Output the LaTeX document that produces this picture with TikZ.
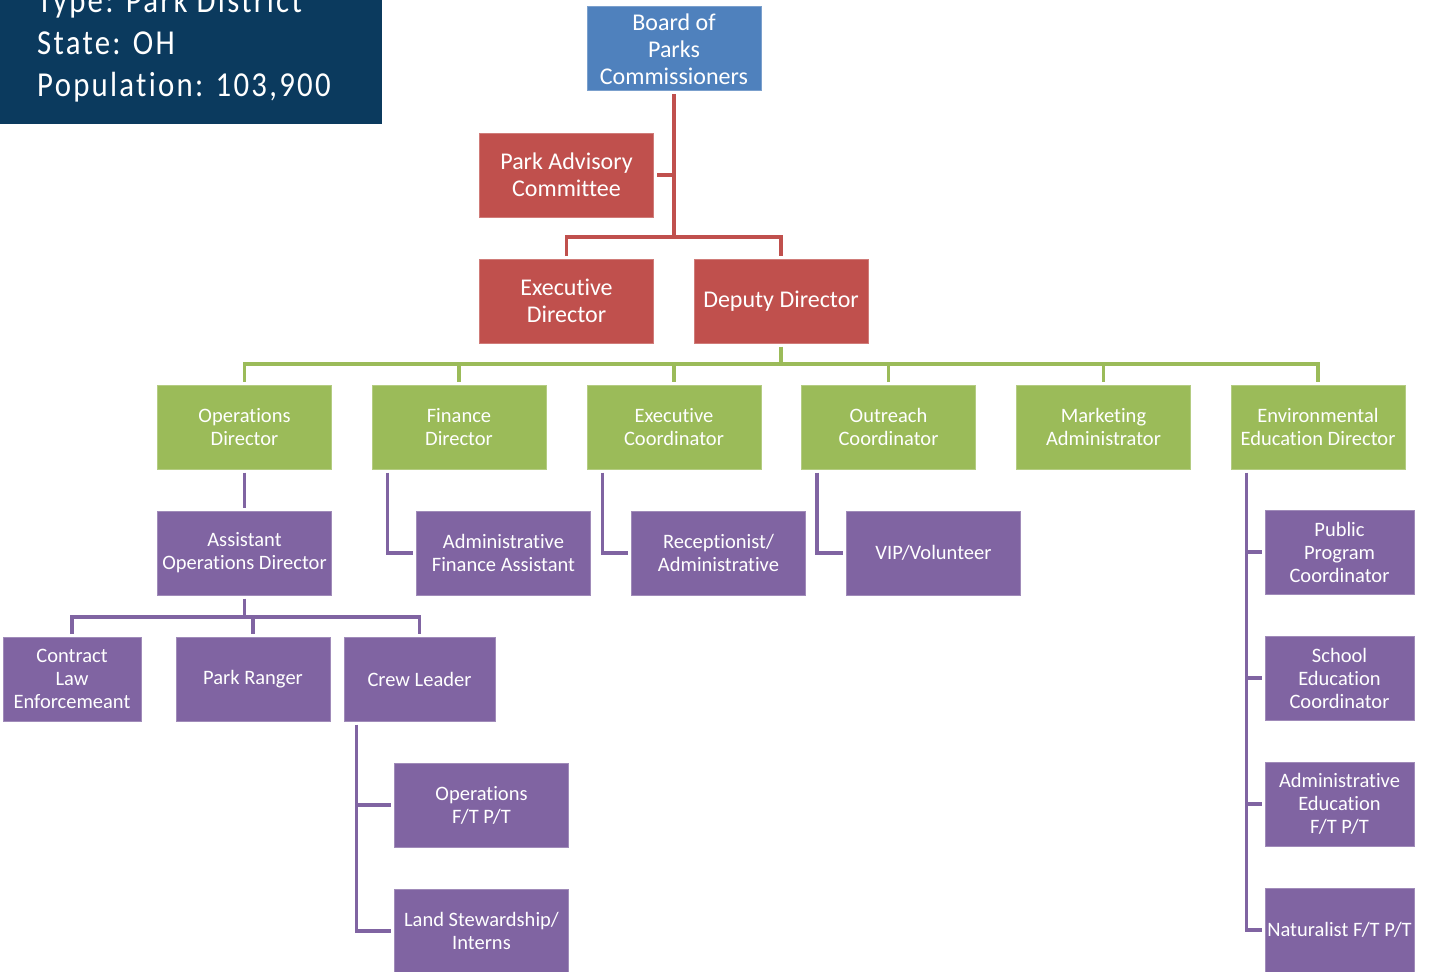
\documentclass[tikz,border=0pt]{standalone}
\usepackage{fontspec}
\setmainfont[Ligatures=NoCommon]{Carlito}
\newfontfamily\panelfont[FakeStretch=0.88, LetterSpace=6.5, Ligatures=NoCommon]{Carlito}
\definecolor{navy}{HTML}{0B3A5E}
\definecolor{boardblue}{HTML}{4F81BD}
\definecolor{leadred}{HTML}{C0504D}
\definecolor{deptgreen}{HTML}{9BBB59}
\definecolor{staffpurple}{HTML}{8064A2}

\tikzset{
  unit/.style={rectangle, inner sep=0pt, minimum width=174pt, minimum height=84pt,
    align=center, text=white, line width=1pt},
  bigtxt/.style={font=\fontsize{24}{27}\selectfont},
  smalltxt/.style={font=\fontsize{20.5}{23}\selectfont},
  boardbox/.style={unit, bigtxt, fill=boardblue, draw=boardblue!75!white},
  leadbox/.style={unit, bigtxt, fill=leadred, draw=leadred!75!white},
  deptbox/.style={unit, smalltxt, fill=deptgreen, draw=deptgreen!75!white},
  staffbox/.style={unit, smalltxt, fill=staffpurple, draw=staffpurple!75!white},
  link/.style={line width=3.5pt, shorten <=3pt, shorten >=3pt},
  infotxt/.style={anchor=base west, inner sep=0pt, text=white,
    font=\panelfont\fontsize{35}{42}\selectfont},
}

\begin{document}
\begin{tikzpicture}[x=1pt, y=-1pt]
\useasboundingbox (0,0) rectangle (1431,971);
\clip (0,0) rectangle (1431,971);

% district summary panel
\fill[navy] (0,-30) rectangle (382,124);
\node[infotxt] (itype) at (37,13) {Type: Park District};
\node[infotxt] (istate) at (37,55) {State: OH};
\node[infotxt] (ipop) at (37,97) {Population: 103,900};

% board and leadership
\node[boardbox] (board) at (674,49) {Board of\\Parks\\Commissioners};
\node[leadbox] (advisory) at (566.5,175) {Park Advisory\\Committee};
\node[leadbox] (execdir) at (566.5,301) {Executive\\Director};
\node[leadbox] (deputy) at (781,301) {Deputy Director};

% departments
\node[deptbox] (ops) at (244.5,427) {Operations\\Director};
\node[deptbox] (fin) at (459,427) {Finance\\ Director};
\node[deptbox] (excoord) at (674,427) {Executive\\Coordinator};
\node[deptbox] (outreach) at (888.5,427) {Outreach\\Coordinator};
\node[deptbox] (marketing) at (1103.5,427) {Marketing\\Administrator};
\node[deptbox] (envdir) at (1318,427) {Environmental\\Education Director};

% second level staff
\node[staffbox] (asstops) at (244.5,553) {Assistant\\Operations Director};
\node[staffbox] (adminfin) at (503.5,553) {Administrative\\Finance Assistant};
\node[staffbox] (recep) at (718.5,553) {Receptionist/\\Administrative};
\node[staffbox] (vip) at (933.5,553) {VIP/Volunteer};

% environmental education staff
\node[staffbox, minimum width=149pt] (pub) at (1339.5,552) {Public\\ Program\\Coordinator};
\node[staffbox, minimum width=149pt] (school) at (1339.5,678) {School\\ Education\\Coordinator};
\node[staffbox, minimum width=149pt] (adminedu) at (1339.5,804) {Administrative\\Education\\F/T P/T};
\node[staffbox, minimum width=149pt] (nat) at (1339.5,930) {Naturalist F/T P/T};

% operations field staff
\node[staffbox, minimum width=138pt] (contract) at (72,679) {Contract\\ Law\\Enforcemeant};
\node[staffbox, minimum width=154pt] (ranger) at (253,679) {Park Ranger};
\node[staffbox, minimum width=151pt] (crew) at (419.5,679) {Crew Leader};
\node[staffbox] (opsft) at (481.5,805) {Operations\\ F/T P/T};
\node[staffbox] (land) at (481.5,931) {Land Stewardship/\\Interns};

% red connectors
\coordinate (redbus) at (674,237);
\draw[link, leadred] (board.south) -- (redbus) -| (execdir.north);
\draw[link, leadred, shorten <=0pt] (redbus) -| (deputy.north);
\draw[link, leadred, shorten >=0pt] (advisory.east) -- (advisory.east -| redbus);

% green connectors
\coordinate (greenbus) at (781,364);
\draw[link, deptgreen, shorten >=0pt] (deputy.south) -- (greenbus);
\draw[link, deptgreen] (ops.north) |- (greenbus) -| (envdir.north);
\foreach \d in {fin, excoord, outreach, marketing}
  \draw[link, deptgreen, shorten <=0pt] (greenbus -| \d.north) -- (\d.north);

% purple connectors
\draw[link, staffpurple] (ops.south) -- (asstops.north);
\draw[link, staffpurple] ([xshift=16pt]fin.south west) |- (adminfin.west);
\draw[link, staffpurple] ([xshift=16pt]excoord.south west) |- (recep.west);
\draw[link, staffpurple] ([xshift=16pt]outreach.south west) |- (vip.west);

\coordinate (opsbus) at (244.5,617);
\draw[link, staffpurple, shorten >=0pt] (asstops.south) -- (opsbus);
\draw[link, staffpurple] (contract.north) |- (opsbus) -| (crew.north);
\draw[link, staffpurple, shorten <=0pt] (opsbus -| ranger.north) -- (ranger.north);

\coordinate (crewcol) at ([xshift=13pt]crew.south west);
\draw[link, staffpurple] (crewcol) |- (land.west);
\draw[link, staffpurple, shorten <=0pt] (crewcol |- opsft.west) -- (opsft.west);

\coordinate (envcol) at ([xshift=16pt]envdir.south west);
\draw[link, staffpurple] (envcol) |- (nat.west);
\foreach \s in {pub, school, adminedu}
  \draw[link, staffpurple, shorten <=0pt] (envcol |- \s.west) -- (\s.west);
\end{tikzpicture}
\end{document}
